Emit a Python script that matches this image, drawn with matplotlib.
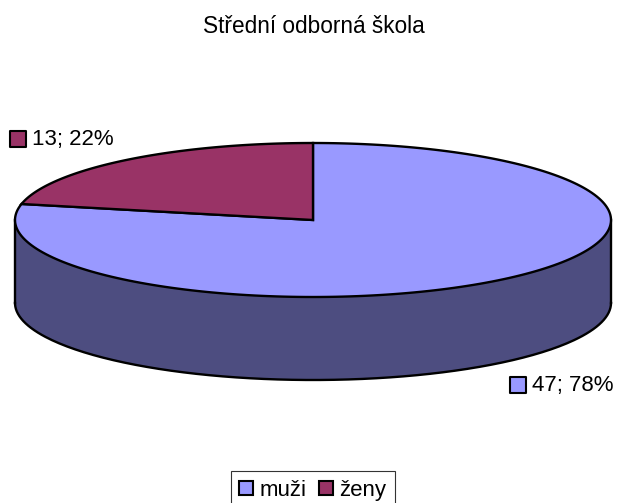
import numpy as np
from matplotlib import pyplot as plt
from matplotlib.patches import Patch

plt.rcParams['font.family'] = ['Liberation Sans', 'DejaVu Sans']

title = 'Střední odborná škola'
categories = ['muži', 'ženy']
values = [47, 13]
percents = [78, 22]
colors = ['#9999FF', '#993366']
side_color = '#4D4D80'

# ellipse of the pie top, in image pixels
cx, cy = 313, 220
rx, ry = 298, 77
depth = 83


def ellipse_pts(a0, a1, n=200):
    # angles run clockwise from twelve o'clock
    t = np.radians(np.linspace(a0, a1, n))
    return cx + rx * np.sin(t), cy - ry * np.cos(t)


fig = plt.figure(figsize=(6.17, 5.03), dpi=100)
ax = fig.add_axes([0, 0, 1, 1])
ax.set_xlim(0, 617)
ax.set_ylim(503, 0)
ax.axis('off')

# side wall, front half only
x, y = ellipse_pts(90, 270)
ax.fill(np.r_[x, x[::-1]], np.r_[y, y[::-1] + depth], color=side_color, lw=0)
ax.plot(x, y + depth, color='black', lw=1.7, zorder=3)
ax.plot([cx + rx, cx + rx], [cy, cy + depth], color='black', lw=1.7, zorder=3)
ax.plot([cx - rx, cx - rx], [cy, cy + depth], color='black', lw=1.7, zorder=3)

# top slices
total = sum(values)
start = 0
for val, col in zip(values, colors):
    end = start + 360 * val / total
    x, y = ellipse_pts(start, end)
    ax.fill(np.r_[cx, x], np.r_[cy, y], facecolor=col, edgecolor='black', lw=1.7,
            joinstyle='miter', zorder=4)
    start = end

ax.text(313.5, 26, title, ha='center', va='center', fontsize=16.3)

# data labels with their small colour keys
label_pos = [(510, 384.5), (10, 139)]
for val, pct, col, (lx, ly) in zip(values, percents, colors, label_pos):
    ax.scatter(lx + 8, ly, s=120, marker='s', facecolor=col, edgecolor='black', lw=1.5, zorder=5)
    ax.text(lx + 21.5, ly + 1, f'{val}; {pct}%', ha='left', va='center', fontsize=16)

handles = [Patch(facecolor=c, edgecolor='black', lw=1.5) for c in colors]
# frame runs past the bottom edge of the image, as in the original
leg = ax.legend(handles, categories, loc='upper center', bbox_to_anchor=(313 / 617, 1 - 471 / 503),
                ncol=2, fontsize=16, frameon=True, fancybox=False, edgecolor='#333333',
                framealpha=1, handlelength=0.62, handleheight=0.62, handletextpad=0.3,
                columnspacing=0.55, borderpad=0.4, borderaxespad=0)
leg.get_frame().set_linewidth(0.8)

fig.savefig('out.png', dpi=100)
